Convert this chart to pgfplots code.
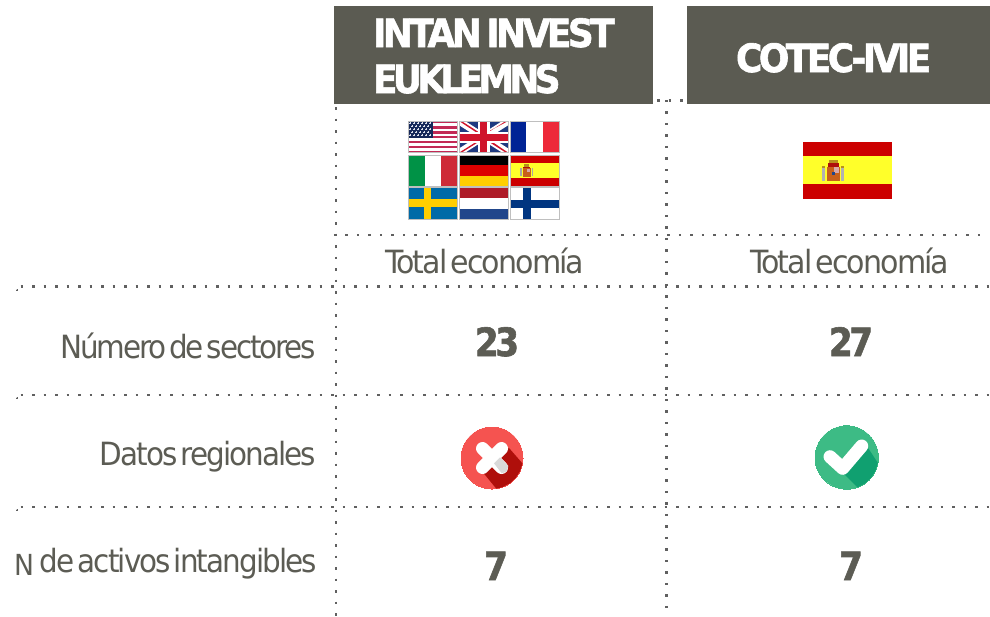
\documentclass[border=0pt]{standalone}
\usepackage{fontspec}
\setmainfont[LetterSpace=-6,FakeStretch=0.92,WordSpace=0.4]{DejaVu Sans}
\newfontfamily\totalfont[LetterSpace=-6,FakeStretch=0.94,WordSpace=0.4]{DejaVu Sans}
\newfontfamily\numerofont[LetterSpace=-6.7,FakeStretch=0.92,WordSpace=0.4]{DejaVu Sans}
\newfontfamily\numfont[LetterSpace=-9,FakeBold=1.5,FakeStretch=0.88,WordSpace=0.4]{DejaVu Sans Bold}
\newfontfamily\headfont[LetterSpace=-9,FakeBold=1.5,FakeStretch=0.92,WordSpace=0.5]{DejaVu Sans Bold}
\newfontfamily\headtight[LetterSpace=-12,FakeBold=1.5,FakeStretch=0.92,WordSpace=0.5]{DejaVu Sans Bold}
\usepackage{pgfplots}
\pgfplotsset{compat=1.18}
\definecolor{head}{HTML}{5B5B52}
\definecolor{txt}{HTML}{5C5C54}
\definecolor{dots}{HTML}{606060}
\definecolor{redlight}{HTML}{F55350}
\definecolor{reddark}{HTML}{AF0F0B}
\definecolor{greenlight}{HTML}{3DBB85}
\definecolor{greendark}{HTML}{10A070}
\definecolor{esred}{HTML}{CC0000}
\definecolor{esyel}{HTML}{FFFF2A}
\definecolor{navy}{HTML}{1F3A80}
\definecolor{usred}{HTML}{C22A55}
\definecolor{ukred}{HTML}{CF142B}
\definecolor{frblue}{HTML}{002395}
\definecolor{frred}{HTML}{ED2939}
\definecolor{itgreen}{HTML}{009246}
\definecolor{itred}{HTML}{CE2B37}
\definecolor{degold}{HTML}{FFCE00}
\definecolor{dered}{HTML}{DD0000}
\definecolor{seblue}{HTML}{006AA7}
\definecolor{nlred}{HTML}{AE1C28}
\definecolor{nlblue}{HTML}{21468B}
\definecolor{fiblue}{HTML}{003580}
\definecolor{coatbr}{HTML}{C8601A}
\definecolor{coatgold}{HTML}{B8901E}
\definecolor{coatpk}{HTML}{D9A8A8}
% filled box from two corners
\newcommand{\rect}[5]{\addplot[fill=#1,draw=none] coordinates {(#2,#3)(#4,#3)(#4,#5)(#2,#5)} --cycle;}
\newcommand{\flagedge}[4]{\addplot[draw=black!25,line width=0.9pt,fill=none] coordinates {(#1,#2)(#3,#2)(#3,#4)(#1,#4)} --cycle;}
\tikzset{
  dotline/.style={dots,line width=2.5pt,dash pattern=on 2.5pt off 9pt},
  lab/.style={inner sep=0pt,outer sep=0pt,text=txt,font=\fontsize{32}{32}\selectfont},
  big/.style={inner sep=0pt,outer sep=0pt,text=txt,font=\numfont\fontsize{39}{39}\selectfont},
  hd/.style={inner sep=0pt,outer sep=0pt,anchor=base west,text=white,font=\headfont\fontsize{39}{39}\selectfont},
}
\begin{document}
\begin{tikzpicture}
\begin{axis}[
  scale only axis, width=990pt, height=616pt,
  xmin=0, xmax=990, ymin=0, ymax=616, y dir=reverse,
  hide axis, no markers, clip=true, clip marker paths=true,
]
\path (axis cs:0,0) (axis cs:990,616);
% dotted rules
\addplot[dotline] coordinates {(333.9,235)(985,235)};
\addplot[dotline] coordinates {(20.5,286.7)(990,286.7)};
\addplot[dotline] coordinates {(20.5,395)(990,395)};
\addplot[dotline] coordinates {(20.5,507)(990,507)};
\addplot[dotline] coordinates {(335.8,107)(335.8,616)};
\addplot[dotline] coordinates {(666.7,99.8)(666.7,616)};
\addplot[dotline] coordinates {(657,100.7)(686,100.7)};
\addplot[only marks,mark=*,mark size=0.6pt,mark options={fill=dots,draw=dots,line width=0pt}] coordinates {(17,290)(17,398)(17,510)};
% header boxes
\rect{head}{334}{6}{653}{104}
\rect{head}{687}{6}{990}{104}
\node[hd] at (axis cs:373,47) {INTAN INVEST};
\node[hd,font=\headtight\fontsize{39}{39}\selectfont] at (axis cs:373,93) {EUKLEMNS};
\node[hd] at (axis cs:736,72) {COTEC-IVIE};
% USA
\rect{white}{408}{121}{457.3}{152.7}
\rect{usred}{408}{121}{457.3}{123.4}
\rect{usred}{408}{126.3}{457.3}{128.6}
\rect{usred}{408}{131.2}{457.3}{133.6}
\rect{usred}{408}{136}{457.3}{138.4}
\rect{usred}{408}{141}{457.3}{143.2}
\rect{usred}{408}{145.8}{457.3}{148}
\rect{usred}{408}{150.5}{457.3}{152.7}
\rect{navy!70!black}{408}{121}{433}{138.4}
\addplot[only marks,mark=*,mark size=0.5pt,mark options={fill=white!85!navy,draw=white!85!navy,line width=0pt}] coordinates {
(410,123)(414,123)(418,123)(422,123)(426,123)(430,123)
(412,126)(416,126)(420,126)(424,126)(428,126)
(410,129)(414,129)(418,129)(422,129)(426,129)(430,129)
(412,132)(416,132)(420,132)(424,132)(428,132)
(410,135)(414,135)(418,135)(422,135)(426,135)(430,135)};
% UK
\rect{navy}{459}{121}{508.3}{152.7}
\addplot[fill=white,draw=none] coordinates {(459,121)(465,121)(508.3,148.5)(508.3,152.7)(502.3,152.7)(459,125.2)} --cycle;
\addplot[fill=white,draw=none] coordinates {(508.3,121)(502.3,121)(459,148.5)(459,152.7)(465,152.7)(508.3,125.2)} --cycle;
\addplot[fill=ukred,draw=none] coordinates {(459,121)(461.5,121)(484,135.5)(481,135.5)} --cycle;
\addplot[fill=ukred,draw=none] coordinates {(508.3,152.7)(505.8,152.7)(483,138)(486.5,138)} --cycle;
\addplot[fill=ukred,draw=none] coordinates {(508.3,121)(505.8,121)(484,135)(481.5,135)} --cycle;
\addplot[fill=ukred,draw=none] coordinates {(459,152.7)(461.5,152.7)(484,138.5)(481.5,138.5)} --cycle;
\rect{white}{477.5}{121}{490}{152.7}
\rect{white}{459}{132}{508.3}{143}
\rect{ukred}{480}{121}{487.3}{152.7}
\rect{ukred}{459}{134.3}{508.3}{140.7}
% France
\rect{white}{510}{121}{559.3}{152.7}
\rect{frblue}{510}{121}{526.3}{152.7}
\rect{frred}{542.6}{121}{559.3}{152.7}
% Italy
\rect{white}{408}{155}{457.3}{186}
\rect{itgreen}{408}{155}{424.5}{186}
\rect{itred}{441}{155}{457.3}{186}
% Germany
\rect{black}{459}{155}{508.3}{165.3}
\rect{dered}{459}{165.3}{508.3}{175.7}
\rect{degold}{459}{175.7}{508.3}{186}
% Spain, small
\rect{esred}{510}{155}{559.3}{186}
\rect{esyel}{510}{163}{559.3}{178}
\rect{black!35}{520.3}{168}{522}{175.5}
\rect{black!35}{531.5}{168}{533.2}{175.5}
\rect{coatgold}{524}{164.4}{529.3}{166.5}
\rect{reddark}{523}{166.5}{530.4}{168.4}
\rect{coatbr}{522.8}{168.4}{530.6}{176.5}
\rect{coatpk}{527}{168.6}{530.4}{172}
% Sweden
\rect{seblue}{408}{187.7}{457.3}{219}
\rect{degold}{424}{187.7}{430.7}{219}
\rect{degold}{408}{199.3}{457.3}{206.7}
% Netherlands
\rect{white}{459}{187.7}{508.3}{219}
\rect{nlred}{459}{187.7}{508.3}{198.2}
\rect{nlblue}{459}{208.5}{508.3}{219}
% Finland
\rect{white}{510}{187.7}{559.3}{219}
\rect{fiblue}{523.3}{187.7}{531.3}{219}
\rect{fiblue}{510}{199.7}{559.3}{207.7}
% flag edges
\flagedge{408}{121}{457.3}{152.7}
\flagedge{459}{121}{508.3}{152.7}
\flagedge{510}{121}{559.3}{152.7}
\flagedge{408}{155}{457.3}{186}
\flagedge{459}{155}{508.3}{186}
\flagedge{510}{155}{559.3}{186}
\flagedge{408}{187.7}{457.3}{219}
\flagedge{459}{187.7}{508.3}{219}
\flagedge{510}{187.7}{559.3}{219}
% Spain, large
\rect{esred}{803}{142}{892}{198.7}
\rect{esyel}{803}{155.7}{892}{184}
\rect{black!30}{822}{168}{825}{180.5}
\rect{black!30}{841}{168}{844}{180.5}
\rect{coatgold}{822}{165.5}{825}{168}
\rect{coatgold}{841}{165.5}{844}{168}
\rect{coatgold}{829}{159.5}{837.5}{163}
\rect{reddark}{827.5}{163}{839}{166.5}
\rect{coatbr}{827}{166.5}{839.5}{180.7}
\rect{coatpk}{833.5}{167}{839}{173}
\rect{nlblue}{832}{172}{834.5}{175}
% row labels
\node[lab,anchor=base west,font=\totalfont\fontsize{32}{32}\selectfont] at (axis cs:385,273) {Total econom\'ia};
\node[lab,anchor=base west,font=\totalfont\fontsize{32}{32}\selectfont] at (axis cs:750,273) {Total econom\'ia};
\node[lab,anchor=base east,font=\numerofont\fontsize{32}{32}\selectfont] at (axis cs:316,358) {N\'umero de sectores};
\node[lab,anchor=base east] at (axis cs:316,465) {Datos regionales};
\node[lab,anchor=base east] at (axis cs:317,572) {de activos intangibles};
\node[lab,anchor=base west,font=\fontsize{29}{29}\selectfont] at (axis cs:14,575) {N};
% numbers
\node[big,anchor=base] at (axis cs:497,356) {23};
\node[big,anchor=base] at (axis cs:851,356) {27};
\node[big,anchor=base] at (axis cs:496,580) {7};
\node[big,anchor=base] at (axis cs:851,580) {7};
% cross icon
\addplot[only marks,mark=*,mark size=31pt,mark options={fill=redlight,draw=redlight,line width=0pt}] coordinates {(492,458)};
\addplot[fill=reddark,draw=none] coordinates {(509,448)(522.5,463.4)(520.1,471.1)(515.7,477.9)(509.8,483.4)(502.6,487.1)(496.3,488.7)(481,470)(492,458)} --cycle;
\addplot[white,line width=13pt,line cap=round] coordinates {(482.5,448.5)(501.5,467.5)};
\addplot[white,line width=13pt,line cap=round] coordinates {(501.5,448.5)(482.5,467.5)};
\addplot[fill=black!15,draw=none] coordinates {(500,457.3)(508.3,466)(506.7,471.7)(501.7,473.3)(494,463.3)} --cycle;
% tick icon
\addplot[only marks,mark=*,mark size=31.7pt,mark options={fill=greenlight,draw=greenlight,line width=0pt}] coordinates {(846.7,457.5)};
\addplot[fill=greendark,draw=none] coordinates {(868.3,448.3)(877.9,463)(875.4,470.9)(871,477.9)(864.9,483.5)(857.5,487.3)(843.3,473.3)(846,462)} --cycle;
\addplot[white,line width=13pt,line cap=round,line join=round] coordinates {(830,456.7)(842.7,468.3)(861.7,446)};
\end{axis}
\end{tikzpicture}
\end{document}
